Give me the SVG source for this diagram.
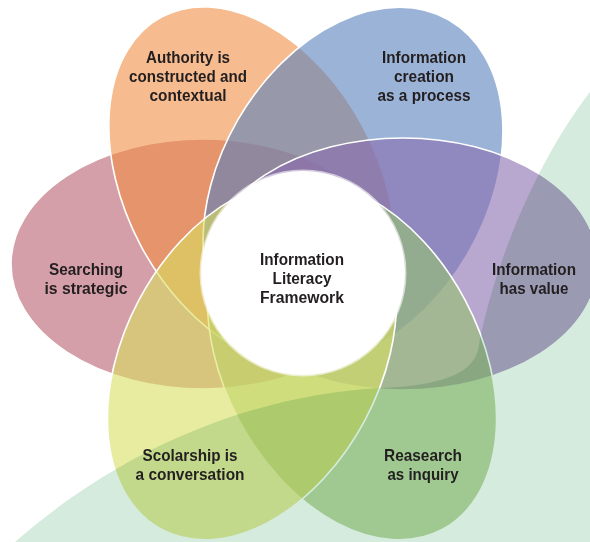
<svg xmlns="http://www.w3.org/2000/svg" width="590" height="542" viewBox="0 0 590 542">
<style>
.petal{fill-opacity:0.6;stroke:#ffffff;stroke-width:1.6;}
.lbl{font-family:"Liberation Sans",Arial,sans-serif;font-weight:bold;font-size:16.5px;fill:#231f20;text-anchor:middle;}
.cl{font-size:16px;}
</style>
<rect x="0" y="0" width="590" height="542" fill="#ffffff"/>
<g id="petals">
<g id="searching"><ellipse class="petal" cx="203" cy="264" rx="192" ry="125" fill="#b75f6e"/></g>
<g id="authority"><ellipse class="petal" cx="252" cy="186.4" rx="192" ry="126" transform="rotate(62 252 186.4)" fill="#f08e43"/></g>
<g id="creation"><ellipse class="petal" cx="353" cy="186.4" rx="192" ry="133" transform="rotate(-60 353 186.4)" fill="#5a80be"/></g>
<g id="value"><ellipse class="petal" cx="403" cy="264" rx="195" ry="126" fill="#896caf"/></g>
<g id="research"><ellipse class="petal" cx="352" cy="360" rx="192" ry="128" transform="rotate(62 352 360)" fill="#96c16e"/></g>
<g id="scholarship"><ellipse class="petal" cx="252" cy="360" rx="192" ry="128" transform="rotate(-62 252 360)" fill="#d9df61"/></g>
</g>
<path id="swoosh" d="M15,542 C120,450 250,395 380,388 Q470,385 478,350 C490,280 530,170 590,92 L590,542 Z" fill="#d5ebdd" style="mix-blend-mode:multiply"/>
<g id="center">
<circle cx="303" cy="273" r="102" fill="#ffffff" stroke="#ffffff" stroke-opacity="0.6" stroke-width="3"/>
<text class="lbl cl" x="302" y="265" textLength="84" lengthAdjust="spacingAndGlyphs">Information</text>
<text class="lbl cl" x="302" y="284" textLength="59" lengthAdjust="spacingAndGlyphs">Literacy</text>
<text class="lbl cl" x="302" y="303" textLength="84" lengthAdjust="spacingAndGlyphs">Framework</text>
</g>
<g id="labels">
<g id="t-authority">
<text class="lbl" x="188" y="63" textLength="84" lengthAdjust="spacingAndGlyphs">Authority is</text>
<text class="lbl" x="188" y="82" textLength="118" lengthAdjust="spacingAndGlyphs">constructed and</text>
<text class="lbl" x="188" y="101" textLength="77" lengthAdjust="spacingAndGlyphs">contextual</text>
</g>
<g id="t-creation">
<text class="lbl" x="424" y="63" textLength="84" lengthAdjust="spacingAndGlyphs">Information</text>
<text class="lbl" x="424" y="82" textLength="60" lengthAdjust="spacingAndGlyphs">creation</text>
<text class="lbl" x="424" y="101" textLength="93" lengthAdjust="spacingAndGlyphs">as a process</text>
</g>
<g id="t-value">
<text class="lbl" x="534" y="275" textLength="84" lengthAdjust="spacingAndGlyphs">Information</text>
<text class="lbl" x="534" y="294" textLength="69" lengthAdjust="spacingAndGlyphs">has value</text>
</g>
<g id="t-searching">
<text class="lbl" x="86" y="275" textLength="74" lengthAdjust="spacingAndGlyphs">Searching</text>
<text class="lbl" x="86" y="294" textLength="83" lengthAdjust="spacingAndGlyphs">is strategic</text>
</g>
<g id="t-scholarship">
<text class="lbl" x="190" y="461" textLength="95" lengthAdjust="spacingAndGlyphs">Scolarship is</text>
<text class="lbl" x="190" y="480" textLength="109" lengthAdjust="spacingAndGlyphs">a conversation</text>
</g>
<g id="t-research">
<text class="lbl" x="423" y="461" textLength="78" lengthAdjust="spacingAndGlyphs">Reasearch</text>
<text class="lbl" x="423" y="480" textLength="71" lengthAdjust="spacingAndGlyphs">as inquiry</text>
</g>
</g>
</svg>
